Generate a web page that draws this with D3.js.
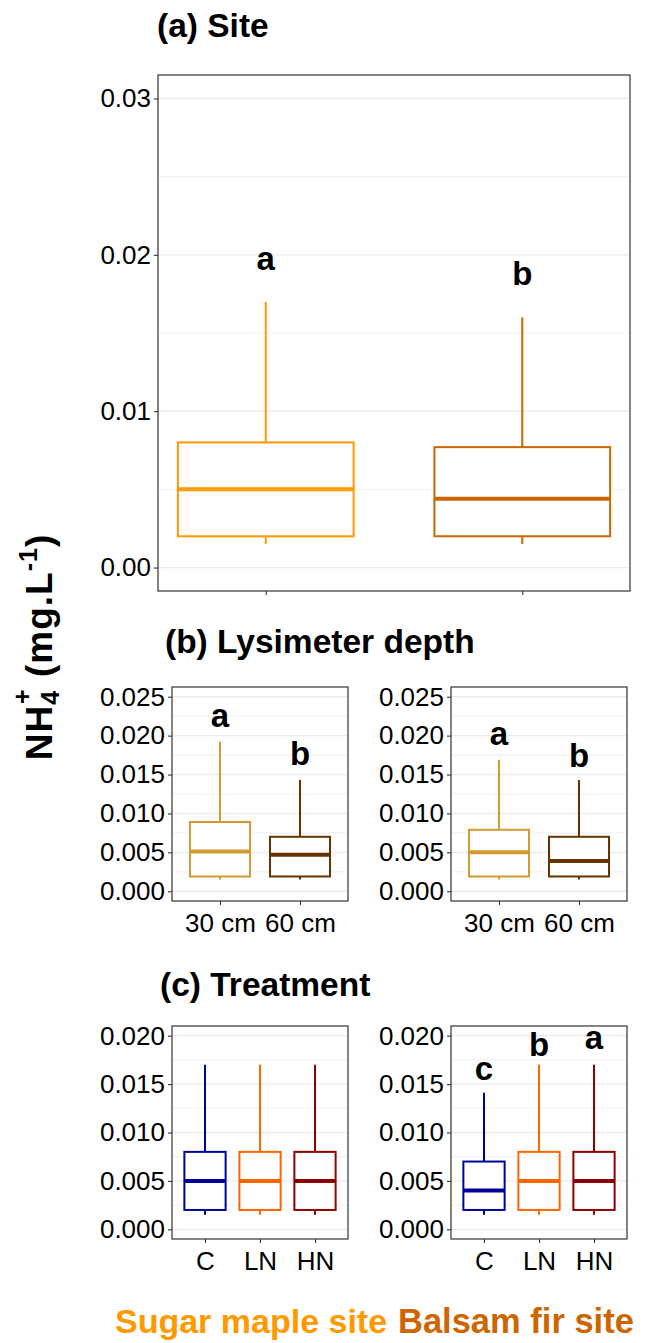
<!DOCTYPE html>
<html>
<head>
<meta charset="utf-8">
<script src="https://cdn.jsdelivr.net/npm/d3@7"></script>
<style>
  body { margin: 0; background: #fff; }
  svg { font-family: "Liberation Sans", Arial, sans-serif; }
</style>
</head>
<body>
<svg class="fig" width="659" height="1343"></svg>
<script>
// box stats: [lower whisker, Q1, median, Q3, upper whisker]
const siteGroups = ["Sugar maple", "Balsam fir"];
const siteStats = [
  [0.0015, 0.002, 0.005, 0.008, 0.017],
  [0.0015, 0.002, 0.0044, 0.0077, 0.016]
];
const siteLetters = ["a", "b"];
const siteLetterY = [0.019, 0.0181];
const siteTicks = [0, 0.01, 0.02, 0.03];

const depthGroups = ["30 cm", "60 cm"];
const depthStatsSM = [
  [0.0015, 0.0019, 0.0051, 0.0089, 0.0192],
  [0.0015, 0.0019, 0.0047, 0.007, 0.0143]
];
const depthStatsBF = [
  [0.0015, 0.0019, 0.005, 0.0079, 0.0169],
  [0.0015, 0.0019, 0.0039, 0.007, 0.0143]
];
const depthLettersSM = ["a", "b"];
const depthLetterYSM = [0.0211, 0.0162];
const depthLettersBF = ["a", "b"];
const depthLetterYBF = [0.0188, 0.016];
const depthTicks = [0, 0.005, 0.01, 0.015, 0.02, 0.025];

const treatGroups = ["C", "LN", "HN"];
const treatStatsSM = [
  [0.0015, 0.002, 0.005, 0.008, 0.017],
  [0.0015, 0.002, 0.005, 0.008, 0.017],
  [0.0015, 0.002, 0.005, 0.008, 0.017]
];
const treatStatsBF = [
  [0.0015, 0.002, 0.004, 0.007, 0.0141],
  [0.0015, 0.002, 0.005, 0.008, 0.017],
  [0.0015, 0.002, 0.005, 0.008, 0.017]
];
const treatLettersSM = [];
const treatLetterYSM = [];
const treatLettersBF = ["c", "b", "a"];
const treatLetterYBF = [0.0154, 0.0179, 0.0186];
const treatTicks = [0, 0.005, 0.01, 0.015, 0.02];

// colours
const siteColors = ["#FF9900", "#CD6600"];
const depthColors = ["#D09B30", "#663300"];
const treatColors = ["#000099", "#FF6600", "#8B0000"];

let svg = d3.select("svg.fig");

function drawPanel(p) {
  let g = svg.append("g");
  let n = p.groups.length;
  let x = d3.scaleLinear()
    .domain([1 - p.expand, n + p.expand])
    .range([p.x0, p.x1]);
  let y = d3.scaleLinear()
    .domain(p.yDomain)
    .range([p.y1, p.y0]);

  // grid lines, major and minor
  let step = p.ticks[1] - p.ticks[0];
  let minor = p.ticks.map(t => t + step / 2).filter(t => t < p.yDomain[1]);
  g.selectAll("line.minor").data(minor).enter().append("line")
    .attr("x1", p.x0).attr("x2", p.x1)
    .attr("y1", d => y(d)).attr("y2", d => y(d))
    .attr("stroke", "#EBEBEB").attr("stroke-width", 0.8);
  g.selectAll("line.major").data(p.ticks).enter().append("line")
    .attr("x1", p.x0).attr("x2", p.x1)
    .attr("y1", d => y(d)).attr("y2", d => y(d))
    .attr("stroke", "#EBEBEB").attr("stroke-width", 1.3);

  // boxes
  let boxes = g.selectAll("g.box").data(p.stats).enter().append("g");
  let hw = p.boxWidth / 2;
  boxes.append("line")
    .attr("x1", (d, i) => x(i + 1)).attr("x2", (d, i) => x(i + 1))
    .attr("y1", d => y(d[3])).attr("y2", d => y(d[4]))
    .attr("stroke", (d, i) => p.colors[i]).attr("stroke-width", 2);
  boxes.append("line")
    .attr("x1", (d, i) => x(i + 1)).attr("x2", (d, i) => x(i + 1))
    .attr("y1", d => y(d[0])).attr("y2", d => y(d[1]))
    .attr("stroke", (d, i) => p.colors[i]).attr("stroke-width", 2);
  boxes.append("rect")
    .attr("x", (d, i) => x(i + 1 - hw))
    .attr("width", x(1 + hw) - x(1 - hw))
    .attr("y", d => y(d[3]))
    .attr("height", d => y(d[1]) - y(d[3]))
    .attr("fill", "white")
    .attr("stroke", (d, i) => p.colors[i]).attr("stroke-width", 2);
  boxes.append("line")
    .attr("x1", (d, i) => x(i + 1 - hw)).attr("x2", (d, i) => x(i + 1 + hw))
    .attr("y1", d => y(d[2])).attr("y2", d => y(d[2]))
    .attr("stroke", (d, i) => p.colors[i]).attr("stroke-width", 4);

  // significance letters
  g.selectAll("text.letter").data(p.letters).enter().append("text")
    .attr("x", (d, i) => x(i + 1))
    .attr("y", (d, i) => y(p.letterY[i]))
    .attr("text-anchor", "middle")
    .attr("font-size", 33).attr("font-weight", "bold")
    .text(d => d);

  // panel border
  g.append("rect")
    .attr("x", p.x0).attr("y", p.y0)
    .attr("width", p.x1 - p.x0).attr("height", p.y1 - p.y0)
    .attr("fill", "none").attr("stroke", "#333").attr("stroke-width", 1.2);

  // axes
  let ya = g.append("g")
    .attr("transform", `translate(${p.x0},0)`)
    .call(d3.axisLeft(y).tickValues(p.ticks).tickFormat(d3.format(p.fmt))
      .tickSize(4).tickPadding(3));
  let xa = g.append("g")
    .attr("transform", `translate(0,${p.y1})`)
    .call(d3.axisBottom(x).tickValues(d3.range(1, n + 1))
      .tickFormat(i => p.showX ? p.groups[i - 1] : "")
      .tickSize(4).tickPadding(9));
  [ya, xa].forEach(a => {
    a.select(".domain").remove();
    a.selectAll(".tick line").attr("stroke", "#333").attr("stroke-width", 1.1);
    a.selectAll(".tick text").attr("fill", "black")
      .attr("font-size", 26).attr("font-family", "Liberation Sans, Arial, sans-serif");
  });
}

drawPanel({x0: 158, x1: 630, y0: 75, y1: 591, yDomain: [-0.0015, 0.0315],
  ticks: siteTicks, fmt: ".2f", groups: siteGroups, stats: siteStats,
  colors: siteColors, letters: siteLetters, letterY: siteLetterY,
  expand: 0.42, boxWidth: 0.685, showX: false});

drawPanel({x0: 172, x1: 348, y0: 687, y1: 901, yDomain: [-0.00125, 0.02625],
  ticks: depthTicks, fmt: ".3f", groups: depthGroups, stats: depthStatsSM,
  colors: depthColors, letters: depthLettersSM, letterY: depthLetterYSM,
  expand: 0.6, boxWidth: 0.75, showX: true});
drawPanel({x0: 451, x1: 627, y0: 687, y1: 901, yDomain: [-0.00125, 0.02625],
  ticks: depthTicks, fmt: ".3f", groups: depthGroups, stats: depthStatsBF,
  colors: depthColors, letters: depthLettersBF, letterY: depthLetterYBF,
  expand: 0.6, boxWidth: 0.75, showX: true});

drawPanel({x0: 172, x1: 348, y0: 1026, y1: 1239, yDomain: [-0.001, 0.021],
  ticks: treatTicks, fmt: ".3f", groups: treatGroups, stats: treatStatsSM,
  colors: treatColors, letters: treatLettersSM, letterY: treatLetterYSM,
  expand: 0.6, boxWidth: 0.75, showX: true});
drawPanel({x0: 451, x1: 627, y0: 1026, y1: 1239, yDomain: [-0.001, 0.021],
  ticks: treatTicks, fmt: ".3f", groups: treatGroups, stats: treatStatsBF,
  colors: treatColors, letters: treatLettersBF, letterY: treatLetterYBF,
  expand: 0.6, boxWidth: 0.75, showX: true});

// panel titles
const titles = [["(a) Site", 157, 37], ["(b) Lysimeter depth", 165, 653], ["(c) Treatment", 160, 996]];
svg.selectAll("text.title").data(titles).enter().append("text")
  .attr("x", d => d[1]).attr("y", d => d[2])
  .attr("font-size", 33.5).attr("font-weight", "bold")
  .text(d => d[0]);

// y axis title
let yl = svg.append("text")
  .attr("transform", "translate(52,647) rotate(-90)")
  .attr("text-anchor", "middle")
  .attr("font-size", 37).attr("font-weight", "bold")
  .attr("letter-spacing", 1);
yl.append("tspan").text("NH");
yl.append("tspan").attr("font-size", 25).attr("dy", 7).text("4");
yl.append("tspan").attr("font-size", 25).attr("dx", -14).attr("dy", -28).text("+");
yl.append("tspan").attr("dy", 21).text(" (mg.L");
yl.append("tspan").attr("font-size", 25).attr("dy", -15).text("-1");
yl.append("tspan").attr("dy", 15).text(")");

// site labels at the bottom
const siteLabels = [["Sugar maple site", 115, "#FF9900", 34], ["Balsam fir site", 398, "#CD6600", 34.5]];
svg.selectAll("text.site").data(siteLabels).enter().append("text")
  .attr("x", d => d[1]).attr("y", 1333)
  .attr("font-size", d => d[3]).attr("font-weight", "bold")
  .attr("fill", d => d[2])
  .text(d => d[0]);
</script>
</body>
</html>
